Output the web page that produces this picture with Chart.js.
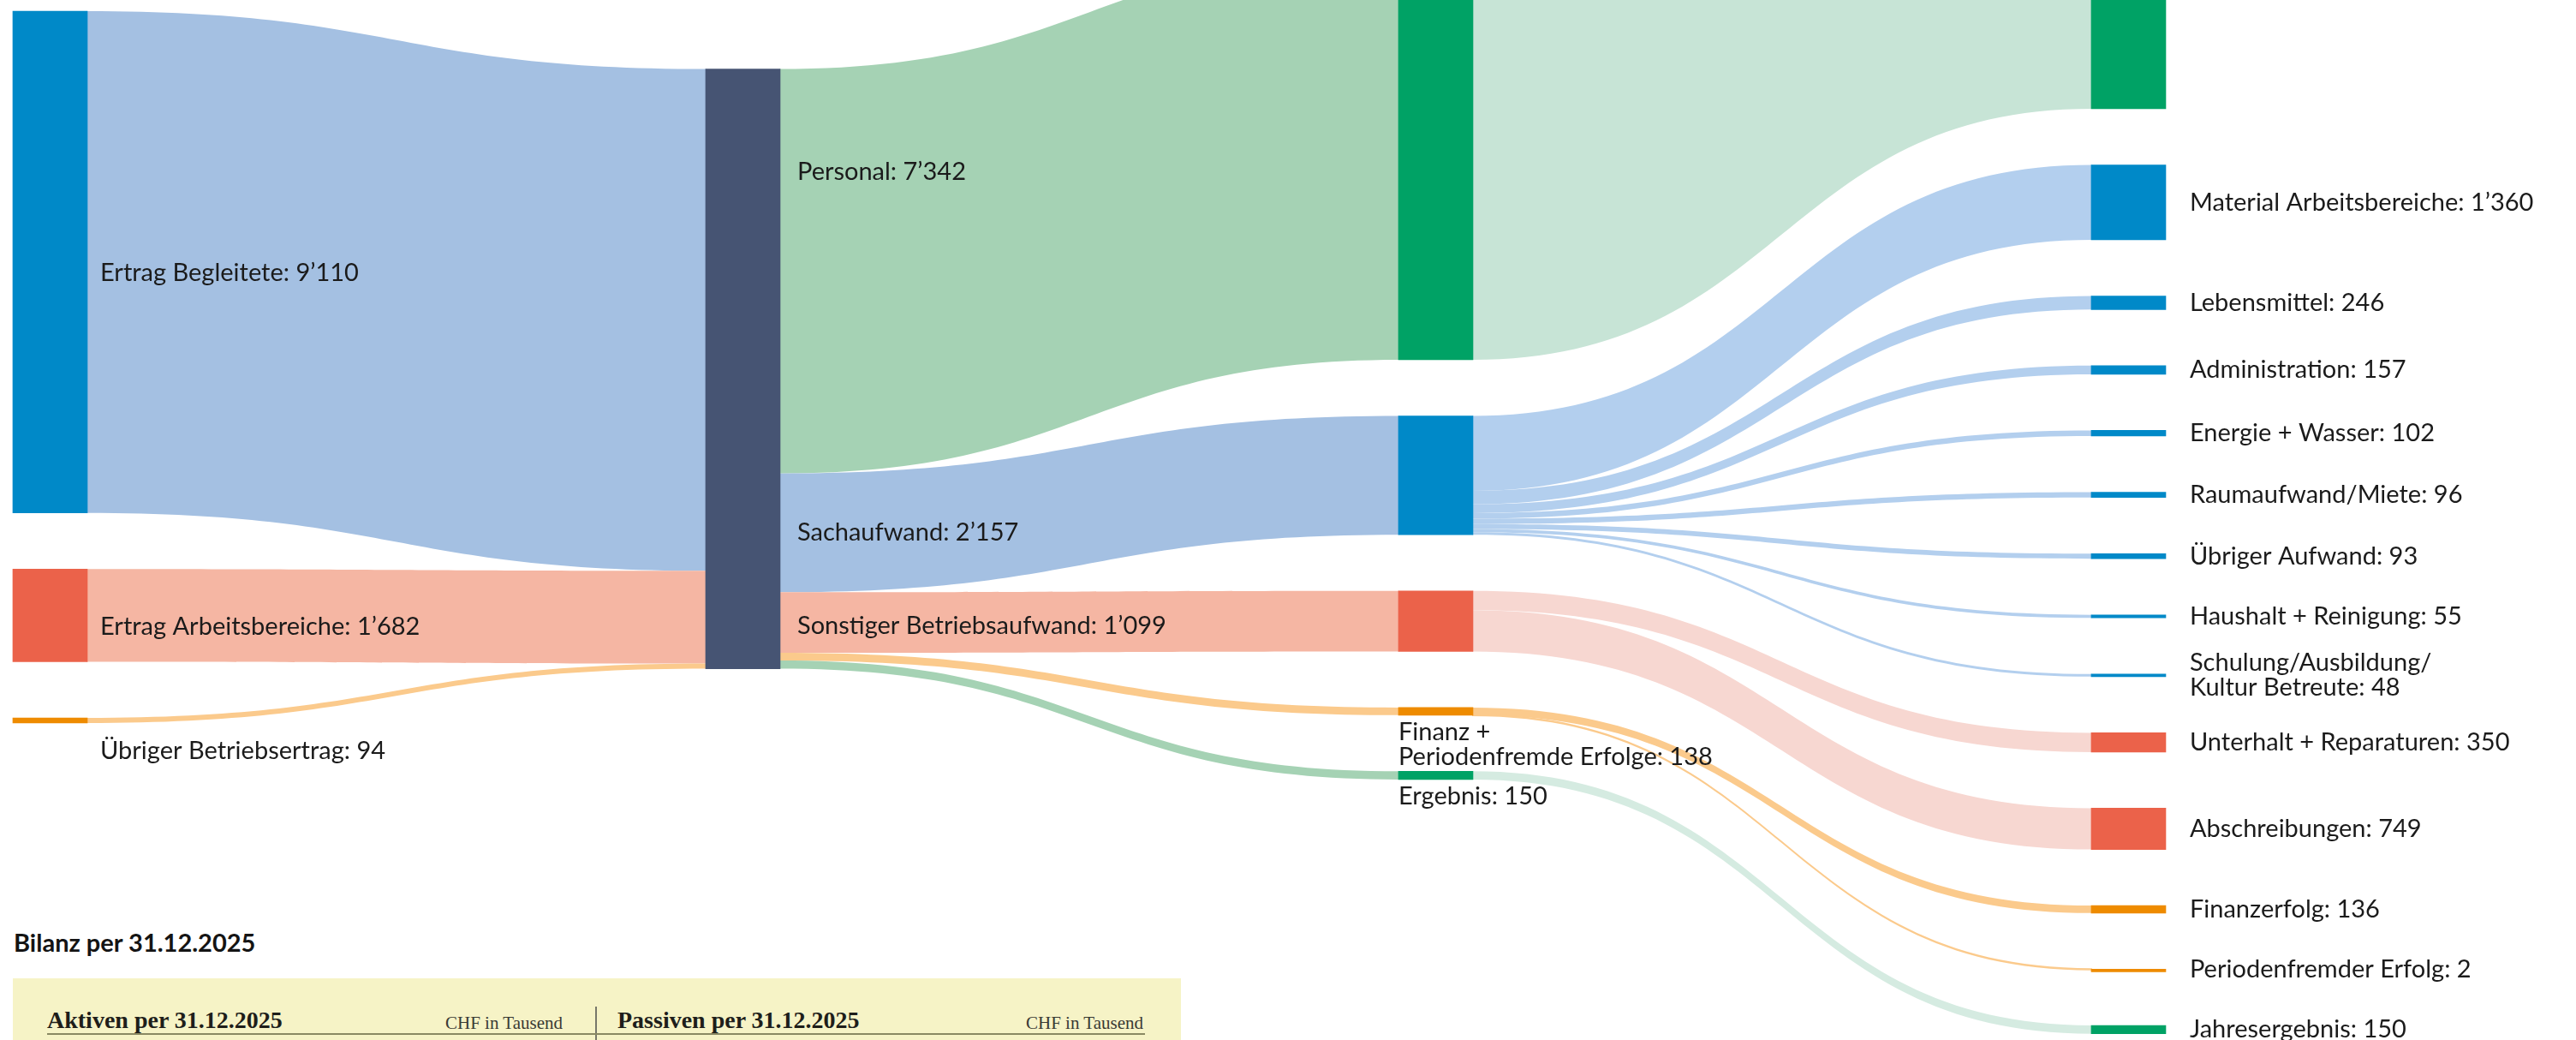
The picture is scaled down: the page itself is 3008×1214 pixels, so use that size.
<!DOCTYPE html>
<html lang="de">
<head>
<meta charset="utf-8">
<title>Erfolgsrechnung 2025</title>
<script src="https://cdn.jsdelivr.net/npm/chart.js@4.4.1/dist/chart.umd.min.js"></script>
<style>
  html, body { margin: 0; padding: 0; background: #fff; }
  #wrap { position: relative; width: 3008px; height: 1214px; overflow: hidden; }
  #sankey { position: absolute; left: 0; top: 0; }
  .bilanz-title { position: absolute; left: 16px; top: 1085px; font: 700 29px Lato, sans-serif; line-height: 1; color: #141414; }
  .bilanz-box { position: absolute; left: 15px; top: 1142px; width: 1364px; height: 120px; background: #f6f3c6; }
  .bilanz-box .head { position: absolute; top: 35px; font: 700 28px "Liberation Serif", serif; line-height: 1; color: #1e1e1a; }
  .bilanz-box .unit { position: absolute; top: 42px; font: 400 21px "Liberation Serif", serif; line-height: 1; color: #3a3a34; }
  .bilanz-box .rule { position: absolute; left: 40px; width: 1282px; top: 64px; height: 2px; background: #8a8963; }
  .bilanz-box .divider { position: absolute; left: 680px; top: 33px; width: 1.5px; height: 100px; background: #77776a; }
</style>
</head>
<body>
<div id="wrap">
  <div class="bilanz-title">Bilanz per 31.12.2025</div>
  <div class="bilanz-box">
    <div class="head" style="left:40px">Aktiven per 31.12.2025</div>
    <div class="unit" style="left:505px">CHF in Tausend</div>
    <div class="divider"></div>
    <div class="head" style="left:706px">Passiven per 31.12.2025</div>
    <div class="unit" style="right:44px">CHF in Tausend</div>
    <div class="rule"></div>
  </div>
  <canvas id="sankey" width="3008" height="1214"></canvas>
</div>
<script>
// ═══════════════════════════════════════
//  Erfolgsrechnung 2025 – CHF in Tausend
// ═══════════════════════════════════════
const nodeNames = [
  "Ertrag Begleitete", "Ertrag Arbeitsbereiche", "Übriger Betriebsertrag",
  "Total",
  "Personal", "Sachaufwand", "Sonstiger Betriebsaufwand", "Finanz +\nPeriodenfremde Erfolge", "Ergebnis",
  "Personal total", "Material Arbeitsbereiche", "Lebensmittel", "Administration", "Energie + Wasser",
  "Raumaufwand/Miete", "Übriger Aufwand", "Haushalt + Reinigung", "Schulung/Ausbildung/\nKultur Betreute",
  "Unterhalt + Reparaturen", "Abschreibungen", "Finanzerfolg", "Periodenfremder Erfolg", "Jahresergebnis"
];
const linkFrom   = [0, 1, 2, 3, 3, 3, 3, 3, 4, 5, 5, 5, 5, 5, 5, 5, 5, 6, 6, 7, 7, 8];
const linkTo     = [3, 3, 3, 4, 5, 6, 7, 8, 9, 10, 11, 12, 13, 14, 15, 16, 17, 18, 19, 20, 21, 22];
const linkValues = [9110, 1682, 94, 7342, 2157, 1099, 138, 150, 7342,
                    1360, 246, 157, 102, 96, 93, 55, 48, 350, 749, 136, 2, 150];

// ── styles ──
const BLUE = "#0089c8", RED = "#eb624a", ORANGE = "#ee8b00", GREEN = "#00a265", SLATE = "#465473";
const nodeColors = [BLUE, RED, ORANGE, SLATE, GREEN, BLUE, RED, ORANGE, GREEN, GREEN,
  BLUE, BLUE, BLUE, BLUE, BLUE, BLUE, BLUE, BLUE, RED, RED, ORANGE, ORANGE, GREEN];
const LB = "#a4c0e2", LR = "#f5b6a3", LO = "#fbca8c", LG = "#a5d2b4";
const linkColors = [LB, LR, LO, LG, LB, LR, LO, LG, "#c7e4d6",
  "#b3cfee", "#b3cfee", "#b3cfee", "#b3cfee", "#b3cfee", "#b3cfee", "#b3cfee", "#b3cfee",
  "#f7d7d1", "#f7d7d1", LO, LO, "#d5ebe1"];

// ── layout (y in CHF units, x in column index) ──
const Y_SPAN   = 18880;
const COL_TOP  = [202, 1253, -810, -5367];
const PAD      = 1019;
const X_MIN = -0.0723, X_MAX = 3.6459;
const NODE_W = 87, MIN_LINK = 2.5;
const FONT = "29px Lato, 'Noto Sans', sans-serif", LINE_H = 29, TEXT = "#1b1b1b";
// label placement: side (right of node), below, link (at incoming link), none
const labelMode = { 3: "none", 9: "none", 2: "below", 7: "below", 8: "below", 4: "link", 5: "link", 6: "link" };
const labelGap  = [15, 0, 20, 28];
const labelDy   = [13, 0, 0, 0];
const labelNudge = { 4: -116, 6: 4 };

// ── derived layout ──
const nodeCol = nodeNames.map(() => 0);
for (let k = 0; k < nodeNames.length; k++) {
  linkFrom.forEach((s, i) => { nodeCol[linkTo[i]] = Math.max(nodeCol[linkTo[i]], nodeCol[s] + 1); });
}
const nodeValue = nodeNames.map((_, n) => {
  let vin = 0, vout = 0;
  linkValues.forEach((v, i) => { if (linkFrom[i] === n) vout += v; if (linkTo[i] === n) vin += v; });
  return Math.max(vin, vout);
});
const nodeY0 = [], nodeY1 = [];
const cursor = COL_TOP.slice();
nodeNames.forEach((_, n) => {
  const c = nodeCol[n];
  nodeY0[n] = cursor[c];
  nodeY1[n] = cursor[c] + nodeValue[n];
  cursor[c] = nodeY1[n] + PAD;
});
const linkSy = [], linkTy = [];
const idx = linkValues.map((_, i) => i);
nodeNames.forEach((_, n) => {
  let off = nodeY0[n];
  idx.filter(i => linkFrom[i] === n)
     .sort((a, b) => nodeY0[linkTo[a]] - nodeY0[linkTo[b]])
     .forEach(i => { linkSy[i] = off; off += linkValues[i]; });
  off = nodeY0[n];
  idx.filter(i => linkTo[i] === n)
     .sort((a, b) => nodeY0[linkFrom[a]] - nodeY0[linkFrom[b]])
     .forEach(i => { linkTy[i] = off; off += linkValues[i]; });
});

const fmt = v => String(v).replace(/\B(?=(\d{3})+(?!\d))/g, "\u2019");

// ── plugins ──
const sankeyLinks = {
  id: "sankeyLinks",
  beforeDatasetsDraw(chart) {
    const { ctx, scales: { x, y } } = chart;
    ctx.save();
    linkValues.forEach((v, i) => {
      const x0 = x.getPixelForValue(nodeCol[linkFrom[i]]) + NODE_W / 2 - 1;
      const x1 = x.getPixelForValue(nodeCol[linkTo[i]]) - NODE_W / 2 + 1;
      let a0 = y.getPixelForValue(linkSy[i]), a1 = y.getPixelForValue(linkSy[i] + v);
      let b0 = y.getPixelForValue(linkTy[i]), b1 = y.getPixelForValue(linkTy[i] + v);
      const h = a1 - a0;
      if (h < MIN_LINK) {
        const d = (MIN_LINK - h) / 2;
        a0 -= d; a1 += d; b0 -= d; b1 += d;
      }
      const xm = (x0 + x1) / 2;
      ctx.beginPath();
      ctx.moveTo(x0, a0);
      ctx.bezierCurveTo(xm, a0, xm, b0, x1, b0);
      ctx.lineTo(x1, b1);
      ctx.bezierCurveTo(xm, b1, xm, a1, x0, a1);
      ctx.closePath();
      ctx.fillStyle = linkColors[i];
      ctx.fill();
    });
    ctx.restore();
  }
};

const sankeyLabels = {
  id: "sankeyLabels",
  afterDatasetsDraw(chart) {
    const { ctx, scales: { x, y } } = chart;
    ctx.save();
    ctx.font = FONT;
    ctx.fillStyle = TEXT;
    ctx.textBaseline = "middle";
    ctx.textAlign = "left";
    nodeNames.forEach((name, n) => {
      const mode = labelMode[n] || "side";
      if (mode === "none") return;
      const c = nodeCol[n];
      const cx = x.getPixelForValue(c);
      const lines = name.split("\n");
      lines[lines.length - 1] += ": " + fmt(nodeValue[n]);
      let tx, ty;
      if (mode === "side") {
        tx = cx + NODE_W / 2 + labelGap[c];
        ty = (y.getPixelForValue(nodeY0[n]) + y.getPixelForValue(nodeY1[n])) / 2 + labelDy[c]
             - (lines.length - 1) * LINE_H / 2;
      } else if (mode === "below") {
        tx = c === 0 ? cx + NODE_W / 2 + labelGap[c] : cx - NODE_W / 2;
        ty = Math.max(y.getPixelForValue(nodeY1[n]), y.getPixelForValue(nodeY0[n]) + 3) + 20 + labelDy[c];
      } else {
        const li = linkTo.indexOf(n);
        tx = x.getPixelForValue(nodeCol[linkFrom[li]]) + NODE_W / 2 + labelGap[c];
        ty = (y.getPixelForValue(linkSy[li]) + y.getPixelForValue(linkSy[li] + linkValues[li])) / 2
             + (labelNudge[n] || 0);
      }
      lines.forEach((s, k) => ctx.fillText(s, tx, ty + k * LINE_H));
    });
    ctx.restore();
  }
};

// ── chart ──
const nodeBars = nodeNames.map((_, n) => ({ x: nodeCol[n], y: [nodeY0[n], nodeY1[n]] }));

new Chart(document.getElementById("sankey"), {
  type: "bar",
  data: {
    datasets: [{
      data: nodeBars,
      backgroundColor: nodeColors,
      borderWidth: 0,
      barThickness: NODE_W,
      minBarLength: 3,
      clip: false
    }]
  },
  options: {
    responsive: false,
    animation: false,
    devicePixelRatio: 1,
    events: [],
    layout: { padding: 0 },
    plugins: { legend: { display: false }, tooltip: { enabled: false } },
    scales: {
      x: { type: "linear", offset: false, min: X_MIN, max: X_MAX, display: false },
      y: { type: "linear", reverse: true, min: 0, max: Y_SPAN, display: false }
    }
  },
  plugins: [sankeyLinks, sankeyLabels]
});
</script>
</body>
</html>
